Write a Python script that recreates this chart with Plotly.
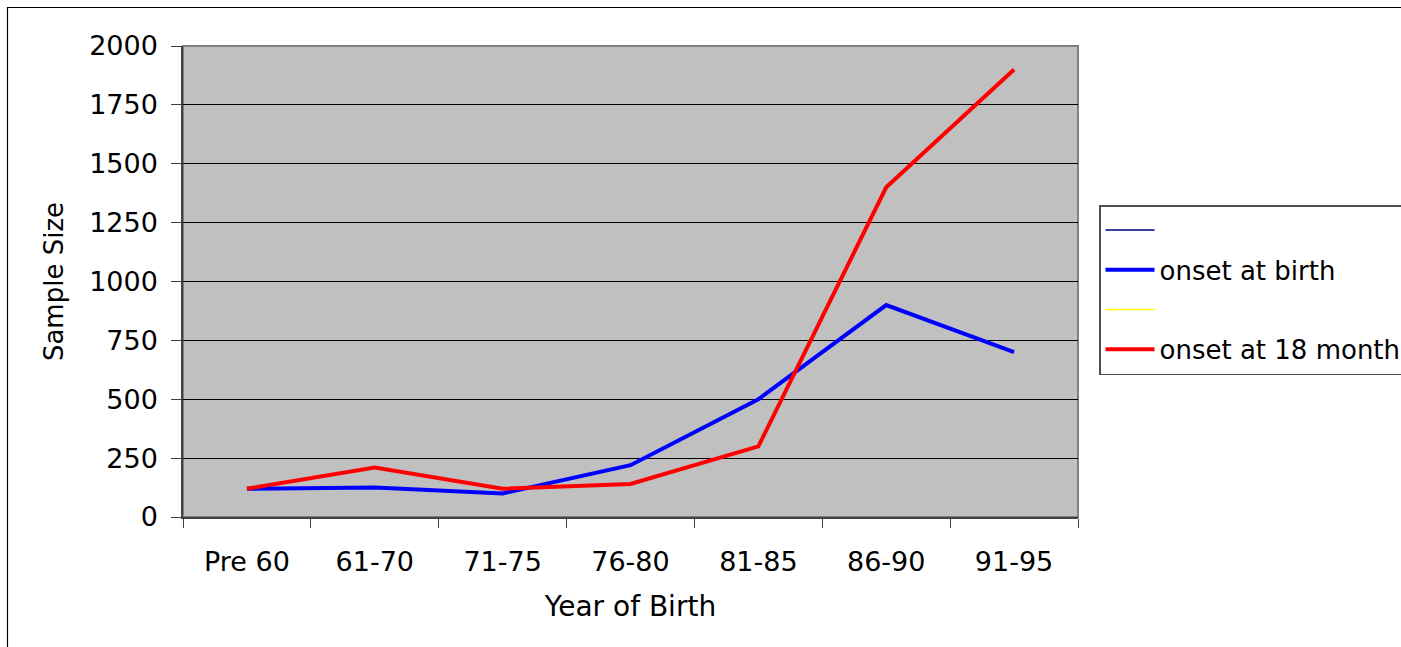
import plotly.graph_objects as go

categories = ["Pre 60", "61-70", "71-75", "76-80", "81-85", "86-90", "91-95"]
onset_birth = [120, 125, 100, 220, 500, 900, 700]
onset_18m = [120, 210, 120, 140, 300, 1400, 1900]
empty_series = [None] * len(categories)
y_ticks = [0, 250, 500, 750, 1000, 1250, 1500, 1750, 2000]

FONT = "DejaVu Sans"

fig = go.Figure()
fig.add_trace(go.Scatter(x=categories, y=empty_series, mode="lines", name=" ",
                         line=dict(color="#000080", width=1.5), legendgroup="a"))
fig.add_trace(go.Scatter(x=categories, y=onset_birth, mode="lines", name="onset at birth",
                         line=dict(color="#0000FF", width=4), legendgroup="b"))
fig.add_trace(go.Scatter(x=categories, y=empty_series, mode="lines", name=" ",
                         line=dict(color="#FFFF00", width=1.5), legendgroup="c"))
fig.add_trace(go.Scatter(x=categories, y=onset_18m, mode="lines", name="onset at 18 month",
                         line=dict(color="#FF0000", width=4), legendgroup="d"))

fig.update_layout(
    width=1401, height=647,
    margin=dict(l=183, r=323, t=46, b=130, autoexpand=False),
    paper_bgcolor="white",
    plot_bgcolor="#C0C0C0",
    font=dict(family=FONT, color="black", size=27),
    showlegend=True,
    legend=dict(
        x=1.0235, y=0.6624, xanchor="left", yanchor="top",
        bgcolor="white", bordercolor="#505050", borderwidth=1.5,
        font=dict(family=FONT, size=26, color="black"),
        itemwidth=49, tracegroupgap=3, traceorder="grouped",
    ),
    xaxis=dict(
        type="category", tickson="boundaries", ticks="outside", ticklen=9,
        tickcolor="#404040", showline=True, linecolor="#404040", linewidth=1.5,
        showgrid=False, tickfont=dict(size=27), ticklabelstandoff=20,
        title=dict(text="Year of Birth", font=dict(size=28), standoff=20),
        range=[-0.5, 6.5], fixedrange=True,
    ),
    yaxis=dict(
        range=[0, 2000], tickvals=y_ticks, ticks="outside", ticklen=10,
        tickcolor="#404040", showline=True, linecolor="#404040", linewidth=1.5,
        showgrid=True, gridcolor="#000000", gridwidth=1, zeroline=False,
        tickfont=dict(size=27), ticklabelstandoff=8,
        title=dict(text="Sample Size", font=dict(size=26), standoff=18),
        fixedrange=True,
    ),
    shapes=[
        dict(type="rect", xref="paper", yref="paper", x0=0, x1=1, y0=0, y1=1,
             line=dict(color="#808080", width=2), layer="below"),
        dict(type="rect", xref="paper", yref="paper", x0=-0.1961, x1=1.5,
             y0=-0.5, y1=1.0817, line=dict(color="black", width=1.2),
             fillcolor="rgba(0,0,0,0)", layer="above"),
    ],
)

fig.write_html(
    "out.html",
    config={"displayModeBar": False},
    post_script="document.body.style.margin='0';document.body.style.overflow='hidden';",
)
